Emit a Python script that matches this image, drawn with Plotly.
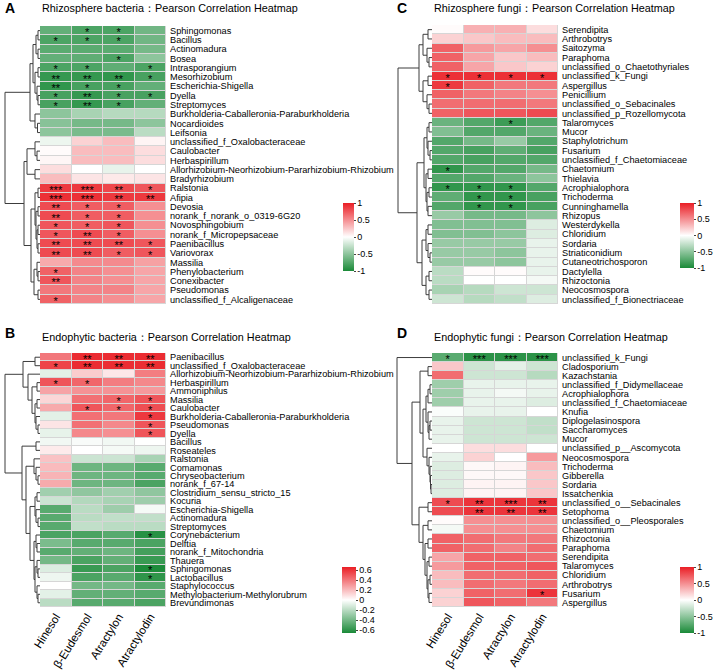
import plotly.graph_objects as go

W, H = 714, 672
FONT = "Liberation Sans, Arial, Helvetica, sans-serif"
compounds = ["Hinesol", "β-Eudesmol", "Atractylon", "Atractylodin"]

# ---------------- Panel A: Rhizosphere bacteria ----------------
a_title = "Rhizosphere bacteria：Pearson Correlation Heatmap"
a_rows = ["Sphingomonas", "Bacillus", "Actinomadura", "Bosea", "Intrasporangium", "Mesorhizobium",
          "Escherichia-Shigella", "Dyella", "Streptomyces", "Burkholderia-Caballeronia-Paraburkholderia",
          "Nocardioides", "Leifsonia", "unclassified_f_Oxalobacteraceae", "Caulobacter", "Herbaspirillum",
          "Allorhizobium-Neorhizobium-Pararhizobium-Rhizobium", "Bradyrhizobium", "Ralstonia", "Afipia",
          "Devosia", "norank_f_norank_o_0319-6G20", "Novosphingobium", "norank_f_Micropepsaceae",
          "Paenibacillus", "Variovorax", "Massilia", "Phenylobacterium", "Conexibacter", "Pseudomonas",
          "unclassified_f_Alcaligenaceae"]
a_vals = [[-0.68, -0.78, -0.78, -0.62], [-0.78, -0.78, -0.78, -0.62], [-0.72, -0.72, -0.72, -0.60],
          [-0.68, -0.70, -0.78, -0.50], [-0.78, -0.78, -0.70, -0.78], [-0.88, -0.88, -0.90, -0.80],
          [-0.90, -0.80, -0.80, -0.68], [-0.80, -0.88, -0.80, -0.80], [-0.80, -0.88, -0.80, -0.68],
          [-0.50, -0.38, -0.32, -0.32], [-0.52, -0.60, -0.60, -0.50], [-0.50, -0.58, -0.58, -0.30],
          [-0.08, 0.20, 0.30, 0.05], [0.02, 0.30, 0.30, 0.15], [0.04, 0.30, 0.30, 0.15],
          [0.15, 0.00, -0.10, 0.00], [0.30, 0.12, 0.10, 0.12], [0.88, 0.88, 0.82, 0.75],
          [0.92, 0.92, 0.88, 0.88], [0.80, 0.72, 0.72, 0.50], [0.80, 0.72, 0.72, 0.50],
          [0.75, 0.72, 0.75, 0.50], [0.75, 0.80, 0.72, 0.50], [0.80, 0.80, 0.80, 0.75],
          [0.80, 0.80, 0.72, 0.75], [0.38, 0.52, 0.52, 0.42], [0.70, 0.55, 0.50, 0.40],
          [0.75, 0.55, 0.50, 0.40], [0.60, 0.55, 0.55, 0.40], [0.70, 0.55, 0.50, 0.40]]
a_sig = [["", "*", "*", ""], ["*", "*", "*", ""], ["", "", "", ""], ["", "", "*", ""],
         ["*", "*", "", "*"], ["**", "**", "**", "*"], ["**", "*", "*", ""], ["*", "**", "*", "*"],
         ["*", "**", "*", ""], ["", "", "", ""], ["", "", "", ""], ["", "", "", ""],
         ["", "", "", ""], ["", "", "", ""], ["", "", "", ""], ["", "", "", ""], ["", "", "", ""],
         ["***", "***", "**", "*"], ["***", "***", "**", "**"], ["**", "*", "*", ""],
         ["**", "*", "*", ""], ["*", "*", "*", ""], ["*", "**", "*", ""], ["**", "**", "**", "*"],
         ["**", "**", "*", "*"], ["", "", "", ""], ["*", "", "", ""], ["**", "", "", ""],
         ["", "", "", ""], ["*", "", "", ""]]
# dendrogram: [merge height, left, right]; leaves are row indices
a_tree = [35,
          [10, [7, [4, [2, 0, 1], [2, 2, 3]], [5, [2, 4, 5], [3, 6, [2, 7, 8]]]], [5, 9, [2.5, 10, 11]]],
          [16, [13, [5, 12, [3, 13, 14]], [5, 15, 16]],
           [9, [5, [2, 17, 18], [4, [2, 19, 20], [3, [2, 21, 22], [2, 23, 24]]]],
            [6, [3, 25, [2, 26, 27]], [2, 28, 29]]]]]

# ---------------- Panel B: Endophytic bacteria ----------------
b_title = "Endophytic bacteria：Pearson Correlation Heatmap"
b_rows = ["Paenibacillus", "unclassified_f_Oxalobacteraceae", "Allorhizobium-Neorhizobium-Pararhizobium-Rhizobium",
          "Herbaspirillum", "Ammoniphilus", "Massilia", "Caulobacter", "Burkholderia-Caballeronia-Paraburkholderia",
          "Pseudomonas", "Dyella", "Bacillus", "Roseateles", "Ralstonia", "Comamonas", "Chryseobacterium",
          "norank_f_67-14", "Clostridium_sensu_stricto_15", "Kocuria", "Escherichia-Shigella", "Actinomadura",
          "Streptomyces", "Corynebacterium", "Delftia", "norank_f_Mitochondria", "Thauera", "Sphingomonas",
          "Lactobacillus", "Staphylococcus", "Methylobacterium-Methylorubrum", "Brevundimonas"]
b_vals = [[0.40, 0.62, 0.62, 0.62], [0.55, 0.62, 0.62, 0.62], [-0.08, 0.15, 0.07, 0.38],
          [0.50, 0.45, 0.38, 0.35], [0.27, 0.32, 0.32, 0.30], [0.12, 0.42, 0.45, 0.50],
          [0.25, 0.50, 0.45, 0.52], [-0.08, 0.42, 0.40, 0.58], [0.08, 0.42, 0.35, 0.50],
          [-0.07, 0.35, 0.33, 0.50], [-0.04, -0.02, -0.04, 0.00], [0.06, 0.00, -0.03, -0.05],
          [0.18, -0.15, -0.15, -0.25], [0.20, -0.42, -0.42, -0.48], [0.22, -0.42, -0.42, -0.48],
          [0.25, -0.42, -0.42, -0.52], [-0.27, -0.32, -0.27, -0.32], [-0.15, -0.22, -0.25, -0.28],
          [-0.48, -0.20, -0.28, -0.03], [-0.48, -0.20, -0.18, -0.18], [-0.48, -0.18, -0.20, -0.20],
          [-0.52, -0.52, -0.48, -0.62], [-0.38, -0.48, -0.48, -0.52], [-0.48, -0.45, -0.42, -0.54],
          [-0.40, -0.52, -0.45, -0.57], [-0.10, -0.57, -0.52, -0.65], [-0.05, -0.52, -0.48, -0.60],
          [0.00, -0.40, -0.40, -0.48], [-0.08, -0.45, -0.45, -0.48], [-0.20, -0.48, -0.48, -0.52]]
b_sig = [["", "**", "**", "**"], ["*", "**", "**", "**"], ["", "", "", ""], ["*", "*", "", ""],
         ["", "", "", ""], ["", "", "*", "*"], ["", "*", "*", "*"], ["", "", "", "*"],
         ["", "", "", "*"], ["", "", "", "*"], ["", "", "", ""], ["", "", "", ""],
         ["", "", "", ""], ["", "", "", ""], ["", "", "", ""], ["", "", "", ""], ["", "", "", ""],
         ["", "", "", ""], ["", "", "", ""], ["", "", "", ""], ["", "", "", ""], ["", "", "", "*"],
         ["", "", "", ""], ["", "", "", ""], ["", "", "", ""], ["", "", "", "*"], ["", "", "", "*"],
         ["", "", "", ""], ["", "", "", ""], ["", "", "", ""]]
b_tree = [35,
          [17, [5, 0, 1], [12, 2, [8, [3, 3, 4], [5, [3, 5, 6], [4, 7, [2, 8, 9]]]]]],
          [18, [4, 10, 11],
           [14, [6, 12, [4, 13, [2, 14, 15]]],
            [10, [5, [3, 16, 17], [4, 18, [2, 19, 20]]],
             [6, [4, 21, [3, 22, 23]], [5, [3, 24, [2, 25, 26]], [3, 27, [2, 28, 29]]]]]]]]

# ---------------- Panel C: Rhizosphere fungi ----------------
c_title = "Rhizosphere fungi：Pearson Correlation Heatmap"
c_rows = ["Serendipita", "Arthrobotrys", "Saitozyma", "Paraphoma", "unclassified_o_Chaetothyriales",
          "unclassified_k_Fungi", "Aspergillus", "Penicillium", "unclassified_o_Sebacinales",
          "unclassified_p_Rozellomycota", "Talaromyces", "Mucor", "Staphylotrichum", "Fusarium",
          "unclassified_f_Chaetomiaceae", "Chaetomium", "Thielavia", "Acrophialophora", "Trichoderma",
          "Cunninghamella", "Rhizopus", "Westerdykella", "Chloridium", "Sordaria", "Striaticonidium",
          "Cutaneotrichosporon", "Dactylella", "Rhizoctonia", "Neocosmospora", "unclassified_f_Bionectriaceae"]
c_vals = [[0.02, 0.35, 0.35, 0.15], [0.20, 0.25, 0.30, 0.30], [0.70, 0.45, 0.40, 0.50],
          [0.70, 0.40, 0.25, 0.30], [0.70, 0.40, 0.25, 0.20], [0.92, 0.92, 0.92, 0.92],
          [0.88, 0.70, 0.60, 0.60], [0.70, 0.60, 0.55, 0.50], [0.65, 0.65, 0.65, 0.60],
          [0.70, 0.75, 0.75, 0.80], [-0.65, -0.75, -0.85, -0.75], [-0.55, -0.75, -0.75, -0.65],
          [-0.75, -0.60, -0.45, -0.75], [-0.75, -0.80, -0.70, -0.80], [-0.75, -0.80, -0.75, -0.75],
          [-0.90, -0.75, -0.75, -0.60], [-0.75, -0.75, -0.65, -0.50], [-0.90, -0.90, -0.90, -0.75],
          [-0.70, -0.90, -0.90, -0.80], [-0.75, -0.90, -0.90, -0.80], [-0.45, -0.60, -0.60, -0.50],
          [-0.55, -0.55, -0.55, -0.15], [-0.55, -0.55, -0.50, -0.15], [-0.45, -0.45, -0.45, -0.10],
          [-0.45, -0.45, -0.50, -0.10], [-0.45, -0.45, -0.50, -0.10], [-0.30, 0.02, 0.02, -0.10],
          [-0.30, 0.00, 0.00, -0.05], [-0.38, -0.32, -0.22, -0.22], [-0.22, -0.32, -0.27, -0.15]]
c_sig = [["", "", "", ""], ["", "", "", ""], ["", "", "", ""], ["", "", "", ""], ["", "", "", ""],
         ["*", "*", "*", "*"], ["*", "", "", ""], ["", "", "", ""], ["", "", "", ""], ["", "", "", ""],
         ["", "", "*", ""], ["", "", "", ""], ["", "", "", ""], ["", "", "", ""], ["", "", "", ""],
         ["*", "", "", ""], ["", "", "", ""], ["*", "*", "*", ""], ["", "*", "*", ""],
         ["", "*", "*", ""], ["", "", "", ""], ["", "", "", ""], ["", "", "", ""], ["", "", "", ""],
         ["", "", "", ""], ["", "", "", ""], ["", "", "", ""], ["", "", "", ""], ["", "", "", ""],
         ["", "", "", ""]]
c_tree = [34,
          [13, [9, [4, 0, 1], [5, 2, [3, 3, 4]]], [9, [4, 5, 6], [5, 7, [3, 8, 9]]]],
          [15, [8, [5, [3, 10, 11], [4, 12, [2, 13, 14]]], [6, [4, 15, 16], [5, [3, 17, 18], [4, 19, 20]]]],
           [10, [6, [4, 21, 22], [4, 23, [2, 24, 25]]], [6, [3, 26, 27], [3, 28, 29]]]]]

# ---------------- Panel D: Endophytic fungi ----------------
d_title = "Endophytic fungi：Pearson Correlation Heatmap"
d_rows = ["unclassified_k_Fungi", "Cladosporium", "Kazachstania", "unclassified_f_Didymellaceae",
          "Acrophialophora", "unclassified_f_Chaetomiaceae", "Knufia", "Diplogelasinospora", "Saccharomyces",
          "Mucor", "unclassified_p__Ascomycota", "Neocosmospora", "Trichoderma", "Gibberella", "Sordaria",
          "Issatchenkia", "unclassified_o__Sebacinales", "Setophoma", "unclassified_o__Pleosporales",
          "Chaetomium", "Rhizoctonia", "Paraphoma", "Serendipita", "Talaromyces", "Chloridium",
          "Arthrobotrys", "Fusarium", "Aspergillus"]
d_vals = [[-0.72, -0.92, -0.92, -0.92], [0.25, -0.22, -0.12, -0.22], [0.65, -0.22, -0.22, -0.32],
          [-0.42, -0.10, -0.10, -0.10], [-0.42, -0.10, -0.05, -0.10], [-0.42, -0.10, -0.10, -0.15],
          [-0.02, -0.10, -0.10, 0.00], [-0.10, -0.22, -0.22, -0.27], [-0.10, -0.22, -0.22, -0.27],
          [-0.10, -0.22, -0.22, -0.22], [0.00, 0.15, 0.15, 0.00], [-0.10, 0.20, 0.00, 0.45],
          [-0.15, 0.03, 0.05, 0.30], [-0.15, 0.03, 0.03, 0.25], [-0.15, 0.05, 0.05, 0.25],
          [-0.15, 0.05, 0.05, 0.25], [0.80, 0.90, 0.90, 0.90], [0.80, 0.90, 0.90, 0.90],
          [0.02, 0.50, 0.50, 0.50], [-0.05, 0.50, 0.50, 0.50], [0.70, 0.65, 0.60, 0.60],
          [0.70, 0.65, 0.55, 0.65], [0.40, 0.70, 0.70, 0.65], [0.45, 0.70, 0.70, 0.75],
          [0.30, 0.65, 0.65, 0.70], [0.30, 0.65, 0.60, 0.65], [0.20, 0.70, 0.65, 0.90],
          [0.20, 0.75, 0.70, 0.60]]
d_sig = [["*", "***", "***", "***"], ["", "", "", ""], ["", "", "", ""], ["", "", "", ""],
         ["", "", "", ""], ["", "", "", ""], ["", "", "", ""], ["", "", "", ""], ["", "", "", ""],
         ["", "", "", ""], ["", "", "", ""], ["", "", "", ""], ["", "", "", ""], ["", "", "", ""],
         ["", "", "", ""], ["", "", "", ""], ["*", "**", "***", "**"], ["", "**", "**", "**"],
         ["", "", "", ""], ["", "", "", ""], ["", "", "", ""], ["", "", "", ""], ["", "", "", ""],
         ["", "", "", ""], ["", "", "", ""], ["", "", "", ""], ["", "", "", "*"], ["", "", "", ""]]
d_tree = [35, 0,
          [20, [12, [4, 1, 2], [9, [6, [4, [2, 3, 4], 5], [4, 6, [3, [2, 7, 8], 9]]],
                                [5, 10, [3, 11, [2, 12, [1.5, 13, [1, 14, 15]]]]]]],
           [13, [4, 16, 17], [9, [4, 18, 19], [7, [4, 20, 21], [5, [3, 22, 23], [4, [2, 24, 25], [3, 26, 27]]]]]]]]

cb_pm1 = [1, 0.5, 0, -0.5, -1]
cb_b = [0.6, 0.4, 0.2, 0, -0.2, -0.4, -0.6]

# ---------------- layout geometry (pixels) ----------------
panels = [
    dict(rows=a_rows, vals=a_vals, sig=a_sig, tree=a_tree, title=a_title, letter="A",
         heat=(40, 166, 26, 304), dendro=(0, 40), cb=(343, 203, 271, 11), zmax=1.0, ticks=cb_pm1,
         xlabels=False, letter_xy=(3, 8), title_xy=(40, 8)),
    dict(rows=b_rows, vals=b_vals, sig=b_sig, tree=b_tree, title=b_title, letter="B",
         heat=(40, 166, 353, 607), dendro=(0, 40), cb=(342, 567, 633, 14), zmax=0.66, ticks=cb_b,
         xlabels=True, letter_xy=(3, 333), title_xy=(40, 337)),
    dict(rows=c_rows, vals=c_vals, sig=c_sig, tree=c_tree, title=c_title, letter="C",
         heat=(432, 558, 25, 304), dendro=(392, 432), cb=(680, 203, 268, 14), zmax=1.0, ticks=cb_pm1,
         xlabels=False, letter_xy=(395, 8), title_xy=(432, 8)),
    dict(rows=d_rows, vals=d_vals, sig=d_sig, tree=d_tree, title=d_title, letter="D",
         heat=(432, 558, 353, 607), dendro=(392, 432), cb=(680, 567, 633, 14), zmax=1.0, ticks=cb_pm1,
         xlabels=True, letter_xy=(395, 333), title_xy=(432, 337)),
]

CS = [[0.0, "#1a8a38"], [0.5, "#ffffff"], [1.0, "#ea1e25"]]
STAR_SIZE = 11
STAR_SHIFT_PX = 2.8


def fx(p):
    return p / W


def fy(p):
    return 1 - p / H


def dendro_xy(node, xs, ys):
    if isinstance(node, int):
        return float(node), 0.0
    h, l, r = node
    yl, hl = dendro_xy(l, xs, ys)
    yr, hr = dendro_xy(r, xs, ys)
    xs += [hl, h, h, hr, None]
    ys += [yl, yl, yr, yr, None]
    return (yl + yr) / 2, h


fig = go.Figure()
layout = dict(width=W, height=H, margin=dict(l=0, r=0, t=0, b=0, autoexpand=False), paper_bgcolor="white",
              plot_bgcolor="white", showlegend=False, font=dict(family=FONT, color="black"))
annotations = []
shapes = []

for i, p in enumerate(panels):
    hx, hy = 2 * i + 1, 2 * i + 2
    hxn = "" if hx == 1 else str(hx)
    hyn = "" if hx == 1 else str(hx)
    dn = str(hy)
    n = len(p["rows"])
    x0, x1, y0, y1 = p["heat"]
    cx, cy0, cy1, cth = p["cb"]
    zm = p["zmax"]
    row_px = (y1 - y0) / n
    fig.add_trace(go.Heatmap(
        z=p["vals"], x=list(range(4)), y=list(range(n)),
        colorscale=CS, zmin=-zm, zmax=zm, xgap=1, ygap=1, hoverinfo="skip",
        xaxis="x" + hxn, yaxis="y" + hyn,
        colorbar=dict(x=fx(cx), xanchor="left", y=fy((cy0 + cy1) / 2), yanchor="middle",
                      len=cy1 - cy0, lenmode="pixels", thickness=cth, thicknessmode="pixels",
                      xpad=0, ypad=0, outlinewidth=0, ticks="outside", ticklen=2, tickwidth=1,
                      tickcolor="#444", tickvals=p["ticks"], ticktext=[f"{t:g}" for t in p["ticks"]],
                      tickfont=dict(size=9, family=FONT, color="black")),
    ))
    # significance stars
    sx, sy, st = [], [], []
    for r, row in enumerate(p["sig"]):
        for c, s in enumerate(row):
            if s:
                sx.append(c)
                sy.append(r + STAR_SHIFT_PX / row_px)
                st.append(s)
    fig.add_trace(go.Scatter(x=sx, y=sy, text=st, mode="text", textposition="middle center",
                             textfont=dict(size=STAR_SIZE, color="black", family=FONT),
                             hoverinfo="skip", showlegend=False, xaxis="x" + hxn, yaxis="y" + hyn))
    layout["xaxis" + hxn] = dict(domain=[fx(x0), fx(x1)], range=[-0.5, 3.5], anchor="y" + hyn,
                                 showgrid=False, zeroline=False, showline=False, ticks="",
                                 tickvals=list(range(4)), ticktext=compounds,
                                 showticklabels=p["xlabels"], tickangle=-58,
                                 tickfont=dict(size=11.5, family=FONT, color="black"))
    layout["yaxis" + hyn] = dict(domain=[fy(y1), fy(y0)], range=[n - 0.5, -0.5], anchor="x" + hxn,
                                 side="right", showgrid=False, zeroline=False, showline=False, ticks="",
                                 tickvals=list(range(n)), ticktext=p["rows"], ticklabelstandoff=3,
                                 tickfont=dict(size=9.2, family=FONT, color="black"))
    # dendrogram
    xs, ys = [], []
    dendro_xy(p["tree"], xs, ys)
    d0, d1 = p["dendro"]
    fig.add_trace(go.Scatter(x=xs, y=ys, mode="lines", line=dict(color="#3c3c3c", width=1),
                             hoverinfo="skip", showlegend=False, xaxis="x" + dn, yaxis="y" + dn))
    layout["xaxis" + dn] = dict(domain=[fx(d0), fx(d1)], range=[d1 - d0, 0], visible=False, anchor="y" + dn)
    layout["yaxis" + dn] = dict(domain=[fy(y1), fy(y0)], range=[n - 0.5, -0.5], visible=False, anchor="x" + dn)
    shapes.append(dict(type="rect", xref="x" + hxn + " domain", yref="y" + hyn + " domain",
                       x0=0, x1=1, y0=0, y1=1, fillcolor="#d6d6d6", line=dict(width=0), layer="below"))
    lx, ly = p["letter_xy"]
    annotations.append(dict(text="<b>" + p["letter"] + "</b>", x=fx(lx), y=fy(ly), xref="paper", yref="paper",
                            xanchor="left", yanchor="middle", showarrow=False,
                            font=dict(size=14, family=FONT, color="black")))
    tx, ty = p["title_xy"]
    annotations.append(dict(text=p["title"], x=fx(tx), y=fy(ty), xref="paper", yref="paper",
                            xanchor="left", yanchor="middle", showarrow=False,
                            font=dict(size=10.8, family=FONT, color="black")))

layout["annotations"] = annotations
layout["shapes"] = shapes
fig.update_layout(**layout)
fig.write_html("out.html", config={"displayModeBar": False},
               post_script="document.body.style.margin='0px';document.body.style.overflow='hidden';")
